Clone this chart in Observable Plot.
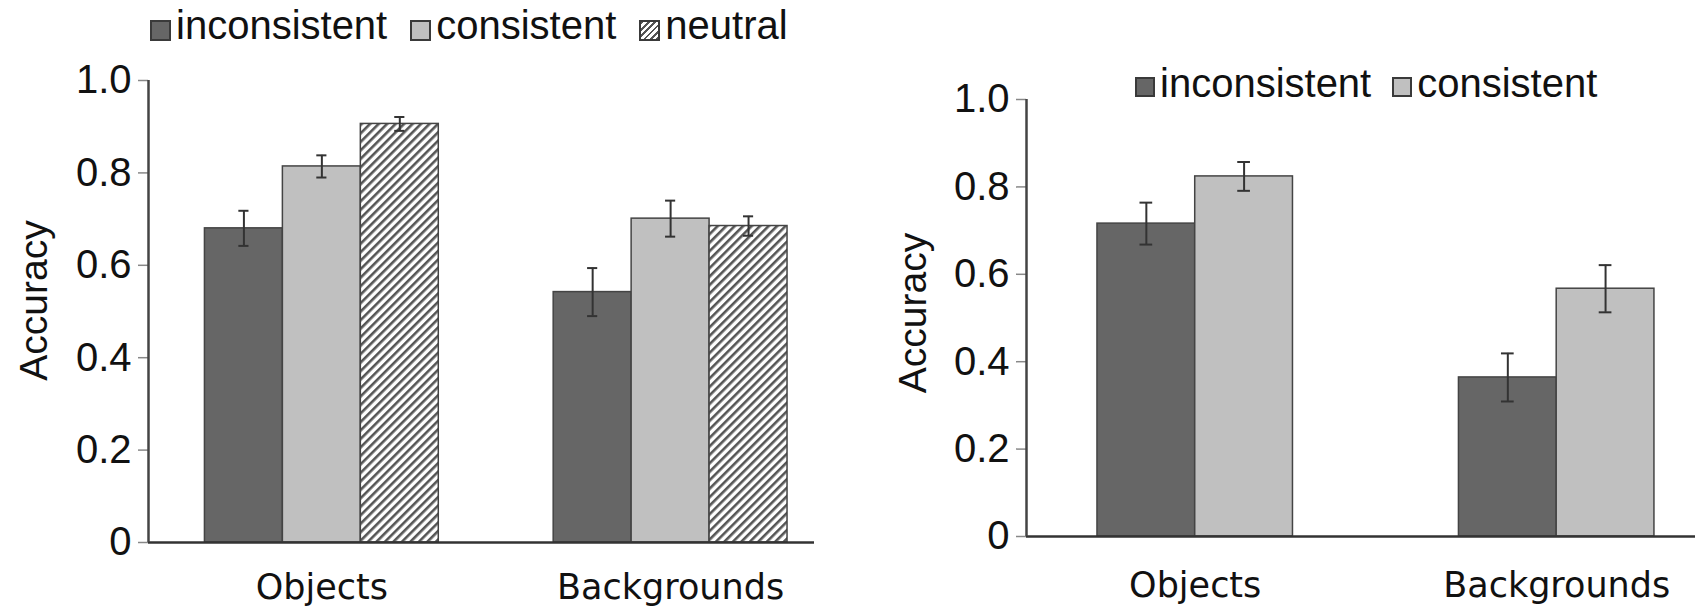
<!DOCTYPE html>
<html>
<head>
<meta charset="utf-8">
<script src="https://cdn.jsdelivr.net/npm/d3@7"></script>
<script src="https://cdn.jsdelivr.net/npm/@observablehq/plot@0.6"></script>
<style>
  html, body { margin: 0; padding: 0; background: #fff; }
  #wrap { position: relative; width: 1695px; height: 608px; overflow: hidden; background: #fff; }
  .panel { position: absolute; top: 0; }
  .legend { position: absolute; display: flex; align-items: baseline; font-family: "Liberation Sans", Arial, sans-serif;
            font-size: 40px; line-height: 40px; color: #111; white-space: nowrap; }
  .item { display: flex; align-items: baseline; }
  .sw { display: inline-block; box-sizing: border-box; border: 2px solid #3a3a3a; }
</style>
</head>
<body>
<div id="wrap">
  <div id="left" class="panel" style="left:0px;"></div>
  <div id="right" class="panel" style="left:870px;"></div>
  <div id="legendLeft" class="legend" style="left:150px; top:5px; gap:23px;"></div>
  <div id="legendRight" class="legend" style="left:1135px; top:63px; gap:21px;"></div>
</div>
<script>
// ---------- data ----------
const groups = ["Objects", "Backgrounds"];
const yTicks = [0, 0.2, 0.4, 0.6, 0.8, 1.0];
const yLabel = "Accuracy";

// left chart
const leftConditions = ["inconsistent", "consistent", "neutral"];
const leftInconsistent = [0.680, 0.542];
const leftConsistent = [0.814, 0.701];
const leftNeutral = [0.906, 0.685];
const leftInconsistentErr = [0.038, 0.052];
const leftConsistentErr = [0.024, 0.039];
const leftNeutralErr = [0.015, 0.021];

// right chart
const rightConditions = ["inconsistent", "consistent"];
const rightInconsistent = [0.716, 0.364];
const rightConsistent = [0.824, 0.567];
const rightInconsistentErr = [0.048, 0.055];
const rightConsistentErr = [0.033, 0.054];

// ---------- styles ----------
const fillByCondition = {inconsistent: "#666666", consistent: "#c0c0c0", neutral: "url(#hatchL)"};
const swatchCss = {
  inconsistent: "background:#666666;",
  consistent: "background:#c0c0c0;",
  neutral: "background: repeating-linear-gradient(135deg, #555 0 2px, #fff 2px 4.5px);"
};

function buildRows(conds, means, errs, gap) {
  const out = [];
  groups.forEach((g, gi) => conds.forEach((c, ci) => {
    const x1 = gi * (conds.length + gap) + ci;
    const v = means[ci][gi], e = errs[ci][gi];
    out.push({group: g, cond: c, value: v, lo: v - e, hi: v + e, x1, x2: x1 + 1, xc: x1 + 0.5});
  }));
  return out;
}
function groupRows(conds, gap) {
  return groups.map((g, gi) => ({group: g, xc: gi * (conds.length + gap) + conds.length / 2}));
}

function panel(cfg) {
  const rows = buildRows(cfg.conds, cfg.means, cfg.errs, cfg.gap);
  const cats = groupRows(cfg.conds, cfg.gap);
  const cap = 0.065;
  const svg = Plot.plot({
    width: cfg.width, height: 608,
    marginLeft: cfg.marginLeft, marginRight: cfg.marginRight,
    marginTop: cfg.marginTop, marginBottom: cfg.marginBottom,
    style: {fontFamily: "'Liberation Sans', Arial, sans-serif", color: "#111", background: "transparent", overflow: "visible"},
    x: {type: "linear", domain: cfg.xDomain, axis: null},
    y: {domain: [0, 1], axis: null},
    color: {type: "ordinal", domain: cfg.conds, range: cfg.conds.map(c => fillByCondition[c])},
    marks: [
      Plot.rectY(rows, {x1: "x1", x2: "x2", y1: 0, y2: "value", fill: "cond", stroke: "#444", strokeWidth: 1.5}),
      Plot.ruleX(rows, {x: "xc", y1: "lo", y2: "hi", stroke: "#333", strokeWidth: 2}),
      Plot.ruleY(rows, {y: "lo", x1: d => d.xc - cap, x2: d => d.xc + cap, stroke: "#333", strokeWidth: 2}),
      Plot.ruleY(rows, {y: "hi", x1: d => d.xc - cap, x2: d => d.xc + cap, stroke: "#333", strokeWidth: 2}),
      Plot.axisY({ticks: yTicks, tickSize: 10, tickPadding: 7, fontSize: 40, stroke: "#888", strokeWidth: 1.5,
                  fill: "#111", label: null, tickFormat: d => d === 0 ? "0" : d.toFixed(1)}),
      Plot.ruleY([0], {stroke: "#333", strokeWidth: 2.5}),
      Plot.ruleX([cfg.xDomain[0]], {y1: 0, y2: 1, stroke: "#444", strokeWidth: 2.5}),
      Plot.text([yLabel], {text: d => d, frameAnchor: "left", textAnchor: "middle", lineAnchor: "middle",
                           rotate: -90, dx: cfg.labelDx, dy: cfg.labelDy, fontSize: 39, fill: "#111"}),
      Plot.text(cats, {x: "xc", text: "group", frameAnchor: "bottom", lineAnchor: "top", dy: cfg.catDy,
                       fontSize: 35, fontFamily: "'DejaVu Sans', Verdana, sans-serif", fill: "#111"})
    ]
  });
  d3.select(svg).insert("defs", ":first-child").html(
    `<pattern id="hatchL" patternUnits="userSpaceOnUse" width="6" height="6" patternTransform="rotate(45)">
       <rect width="6" height="6" fill="#fff"></rect><rect width="2.6" height="6" fill="#555"></rect>
     </pattern>`);
  return svg;
}

document.getElementById("left").appendChild(panel({
  conds: leftConditions,
  means: [leftInconsistent, leftConsistent, leftNeutral],
  errs: [leftInconsistentErr, leftConsistentErr, leftNeutralErr],
  gap: 1.474, width: 870, marginLeft: 148, marginRight: 56, marginTop: 80, marginBottom: 66,
  xDomain: [-0.724, 7.82], labelDx: -114, labelDy: -11, catDy: 32
}));

document.getElementById("right").appendChild(panel({
  conds: rightConditions,
  means: [rightInconsistent, rightConsistent],
  errs: [rightInconsistentErr, rightConsistentErr],
  gap: 1.698, width: 825, marginLeft: 156, marginRight: 0, marginTop: 99, marginBottom: 72,
  xDomain: [-0.726, 6.118], labelDx: -113, labelDy: -5, catDy: 36
}));

function legend(el, conds, size, lift) {
  const box = document.getElementById(el);
  conds.forEach(c => {
    const item = document.createElement("div");
    item.className = "item";
    item.innerHTML = `<span class="sw" style="width:${size}px;height:${size}px;margin-right:5px;position:relative;top:${lift}px;${swatchCss[c]}"></span><span>${c}</span>`;
    box.appendChild(item);
  });
}
legend("legendLeft", leftConditions, 21, 2);
legend("legendRight", rightConditions, 20, 0);
</script>
</body>
</html>
